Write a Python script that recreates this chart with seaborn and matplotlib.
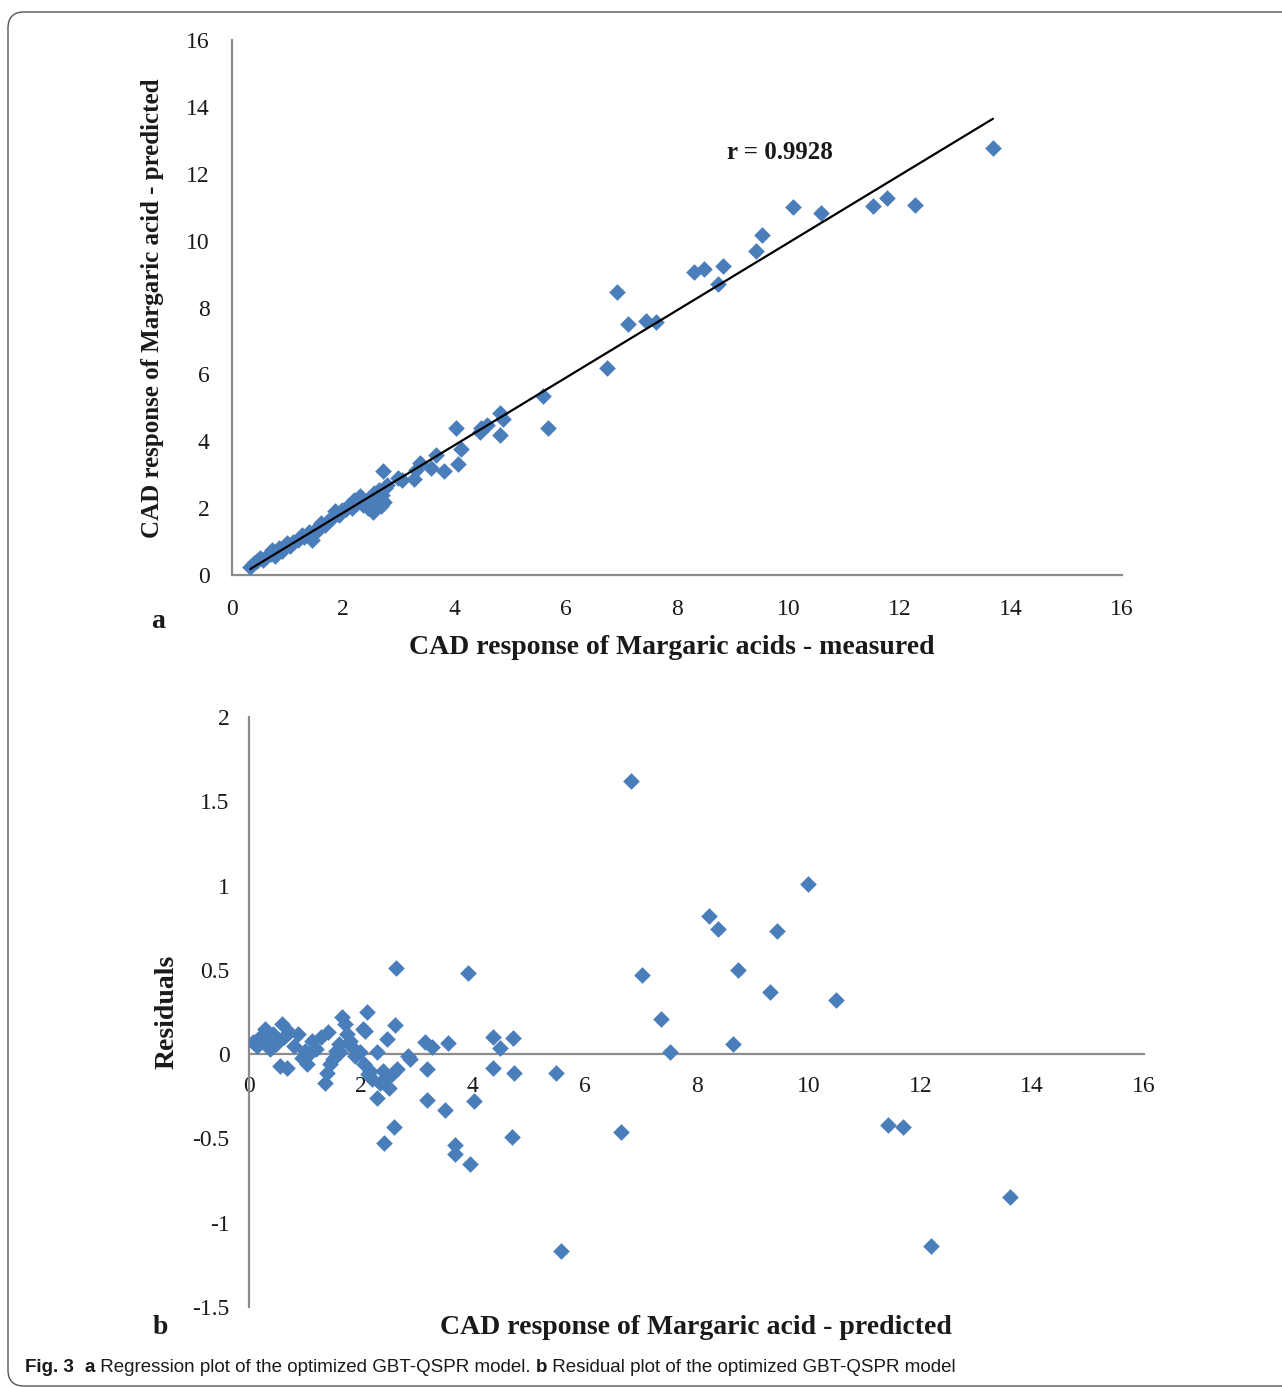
import numpy as np
import pandas as pd
import matplotlib
matplotlib.use("Agg")
import matplotlib.pyplot as plt
import seaborn as sns
from matplotlib.patches import FancyBboxPatch
from matplotlib.transforms import IdentityTransform

# ---------------- data: (a) regression plot ----------------
measured = [0.33, 0.40, 0.45, 0.50, 0.55, 0.62, 0.70, 0.72, 0.78, 0.85,
            0.90, 0.98, 1.05, 1.10, 1.18, 1.25, 1.30, 1.38, 1.44, 1.52,
            1.55, 1.60, 1.68, 1.72, 1.80, 1.85, 1.92, 1.98, 2.05, 2.10,
            2.15, 2.20, 2.25, 2.30, 2.35, 2.40, 2.45, 2.48, 2.53, 2.55,
            2.58, 2.62, 2.65, 2.68, 2.70, 2.73, 2.75, 2.78, 2.71, 2.98,
            3.05, 3.27, 3.31, 3.38, 3.58, 3.67, 3.81, 4.03, 4.06, 4.12,
            4.46, 4.48, 4.58, 4.82, 4.82, 4.87, 5.59, 5.68, 6.74, 6.92,
            7.12, 7.44, 7.62, 8.31, 8.49, 8.74, 8.83, 9.42, 9.53, 10.09,
            10.59, 11.52, 11.78, 12.28, 13.68]
predicted = [0.24, 0.35, 0.42, 0.50, 0.45, 0.55, 0.62, 0.75, 0.58, 0.80,
             0.72, 0.95, 0.88, 1.00, 1.05, 1.20, 1.15, 1.28, 1.05, 1.42,
             1.35, 1.55, 1.50, 1.62, 1.70, 1.90, 1.80, 1.95, 1.98, 2.10,
             2.00, 2.25, 2.15, 2.35, 2.10, 2.20, 2.00, 2.30, 1.88, 2.45,
             2.15, 2.30, 2.55, 2.05, 2.40, 2.18, 2.60, 2.70, 3.11, 2.90,
             2.85, 2.87, 3.14, 3.35, 3.20, 3.59, 3.11, 4.40, 3.32, 3.77,
             4.28, 4.40, 4.49, 4.84, 4.19, 4.67, 5.35, 4.40, 6.19, 8.46,
             7.51, 7.60, 7.57, 9.06, 9.15, 8.70, 9.24, 9.69, 10.17, 11.00,
             10.83, 11.03, 11.27, 11.06, 12.77]
r_text = "r = 0.9928"

# ---------------- data: (b) residual plot ----------------
pred_b = [0.07, 0.15, 0.20, 0.29, 0.32, 0.38, 0.43, 0.48, 0.55, 0.59,
          0.62, 0.68, 0.72, 0.80, 0.88, 0.95, 1.00, 1.03, 1.08, 1.13,
          1.20, 1.28, 1.36, 1.39, 1.41, 1.45, 1.50, 1.55, 1.60, 1.63,
          1.66, 1.72, 1.76, 1.80, 1.85, 1.90, 1.98, 2.03, 2.11, 2.07,
          2.05, 2.13, 2.16, 2.20, 2.29, 2.29, 2.35, 2.40, 2.45, 2.47,
          2.50, 2.55, 2.61, 2.65, 2.63, 2.59, 2.41, 2.84, 2.88,
          3.15, 3.27, 3.18, 3.18, 3.50, 3.56, 3.68, 3.68, 3.91, 3.95,
          4.02, 4.36, 4.49, 4.36, 4.72, 4.74, 4.70,
          5.49, 5.58, 6.65, 6.83, 7.03, 7.36, 7.53, 8.22, 8.38, 8.65,
          8.74, 9.32, 9.44, 9.99, 10.49, 11.42, 11.69, 12.19, 13.60]
resid_b = [0.07, 0.05, 0.10, 0.15, 0.08, 0.03, 0.12, 0.06, -0.07, 0.18,
           0.10, -0.08, 0.13, 0.05, 0.12, -0.02, 0.02, -0.06, 0.00, 0.08,
           0.03, 0.10, -0.17, -0.11, 0.13, -0.06, -0.03, 0.02, 0.06, 0.01,
           0.22, 0.18, 0.12, 0.08, 0.04, -0.01, 0.01, 0.15, 0.25, 0.14,
           -0.06, -0.12, -0.10, -0.15, 0.01, -0.26, -0.17, -0.10, -0.14, 0.09,
           -0.20, -0.12, 0.17, -0.09, 0.51, -0.43, -0.53, -0.01, -0.03,
           0.07, 0.04, -0.09, -0.27, -0.33, 0.065, -0.54, -0.59, 0.48, -0.65,
           -0.28, 0.10, 0.035, -0.08, 0.095, -0.11, -0.49,
           -0.11, -1.17, -0.46, 1.62, 0.47, 0.21, 0.01, 0.82, 0.74, 0.06,
           0.50, 0.37, 0.73, 1.01, 0.32, -0.42, -0.43, -1.14, -0.85]

x_ticks = [0, 2, 4, 6, 8, 10, 12, 14, 16]
y_ticks_a = [0, 2, 4, 6, 8, 10, 12, 14, 16]
y_ticks_b = [-1.5, -1, -0.5, 0, 0.5, 1, 1.5, 2]
y_tick_labels_b = ["-1.5", "-1", "-0.5", "0", "0.5", "1", "1.5", "2"]

df_a = pd.DataFrame({"measured": measured, "predicted": predicted})
df_b = pd.DataFrame({"pred": pred_b, "resid": resid_b})

# ---------------- style ----------------
sns.set_theme(style="white")
plt.rcParams["font.family"] = ["Liberation Serif", "DejaVu Serif"]
plt.rcParams["axes.unicode_minus"] = False

W, H = 1282, 1387
fig = plt.figure(figsize=(W / 100, H / 100), dpi=100)
fig.patch.set_facecolor("white")

BLUE = "#4A7EBB"
SPINE = "#8C8C8C"
TXT = "#1A1A1A"


def px_rect(l, t, r, b):
    return [l / W, 1 - b / H, (r - l) / W, (b - t) / H]


# ---- panel a ----
ax1 = fig.add_axes(px_rect(232, 40, 1122, 575))
sns.scatterplot(data=df_a, x="measured", y="predicted", marker="D", s=72,
                color=BLUE, linewidth=0, ax=ax1, zorder=3)
sns.regplot(data=df_a, x="measured", y="predicted", scatter=False, ci=None,
            truncate=True, line_kws=dict(color="black", lw=1.6, zorder=4),
            ax=ax1)
ax1.set_xlim(0, 16)
ax1.set_ylim(0, 16)
ax1.set_xticks(x_ticks)
ax1.set_yticks(y_ticks_a)
ax1.set_xlabel("")
ax1.set_ylabel("")
for s in ["top", "right"]:
    ax1.spines[s].set_visible(False)
for s in ["left", "bottom"]:
    ax1.spines[s].set_color(SPINE)
    ax1.spines[s].set_linewidth(1.6)
ax1.tick_params(axis="x", length=0, pad=17, labelsize=17, labelcolor=TXT)
ax1.tick_params(axis="y", length=0, pad=16, labelsize=17, labelcolor=TXT)
ax1.set_facecolor("none")
ax1.text(8.9, 12.65, r_text, fontsize=18, fontweight="bold", color=TXT,
         va="center", ha="left")

# ---- panel b ----
ax2 = fig.add_axes(px_rect(249, 717, 1144, 1307))
sns.scatterplot(data=df_b, x="pred", y="resid", marker="D", s=72,
                color=BLUE, linewidth=0, ax=ax2, zorder=3)
ax2.set_xlim(0, 16)
ax2.set_ylim(-1.5, 2)
ax2.set_xticks(x_ticks)
ax2.set_yticks(y_ticks_b)
ax2.set_yticklabels(y_tick_labels_b)
ax2.set_xlabel("")
ax2.set_ylabel("")
for s in ["top", "right"]:
    ax2.spines[s].set_visible(False)
ax2.spines["bottom"].set_position(("data", 0))
for s in ["left", "bottom"]:
    ax2.spines[s].set_color(SPINE)
    ax2.spines[s].set_linewidth(1.6)
ax2.tick_params(axis="x", length=0, pad=15.5, labelsize=17, labelcolor=TXT)
ax2.tick_params(axis="y", length=0, pad=14, labelsize=17, labelcolor=TXT)
ax2.set_facecolor("none")


def ftext(x, y, s, **kw):
    return fig.text(x / W, 1 - y / H, s, **kw)


ftext(672, 648, "CAD response of Margaric acids - measured", fontsize=20,
      fontweight="bold", ha="center", va="center", color=TXT)
ftext(153, 308, "CAD response of Margaric acid - predicted", fontsize=18,
      fontweight="bold", ha="center", va="center", rotation=90, color=TXT)
ftext(158, 622, "a", fontsize=20, fontweight="bold", ha="center",
      va="center", color=TXT)
ftext(696, 1328, "CAD response of Margaric acid - predicted", fontsize=20,
      fontweight="bold", ha="center", va="center", color=TXT)
ftext(167, 1012, "Residuals", fontsize=20, fontweight="bold", ha="center",
      va="center", rotation=90, color=TXT)
ftext(160, 1327, "b", fontsize=20, fontweight="bold", ha="center",
      va="center", color=TXT)

# ---- caption ----
cap_parts = [("Fig. 3", "bold"), ("  ", "normal"), ("a", "bold"),
             (" Regression plot of the optimized GBT-QSPR model. ", "normal"),
             ("b", "bold"),
             (" Residual plot of the optimized GBT-QSPR model", "normal")]
cap_family = ["Liberation Sans", "DejaVu Sans"]
renderer = fig.canvas.get_renderer()
xcur = 25
for txt, wt in cap_parts:
    t = ftext(xcur, 1368, txt, fontsize=13.5, fontweight=wt, family=cap_family,
              ha="left", va="center", color=TXT)
    bb = t.get_window_extent(renderer=renderer)
    xcur += bb.width

# ---- rounded frame ----
frame = FancyBboxPatch((8, 1), 1400, H - 12 - 1,
                       boxstyle="round,pad=0,rounding_size=16",
                       transform=IdentityTransform(), facecolor="none",
                       edgecolor="#555555", linewidth=1.0)
fig.add_artist(frame)

fig.savefig("out.png", dpi=100)
